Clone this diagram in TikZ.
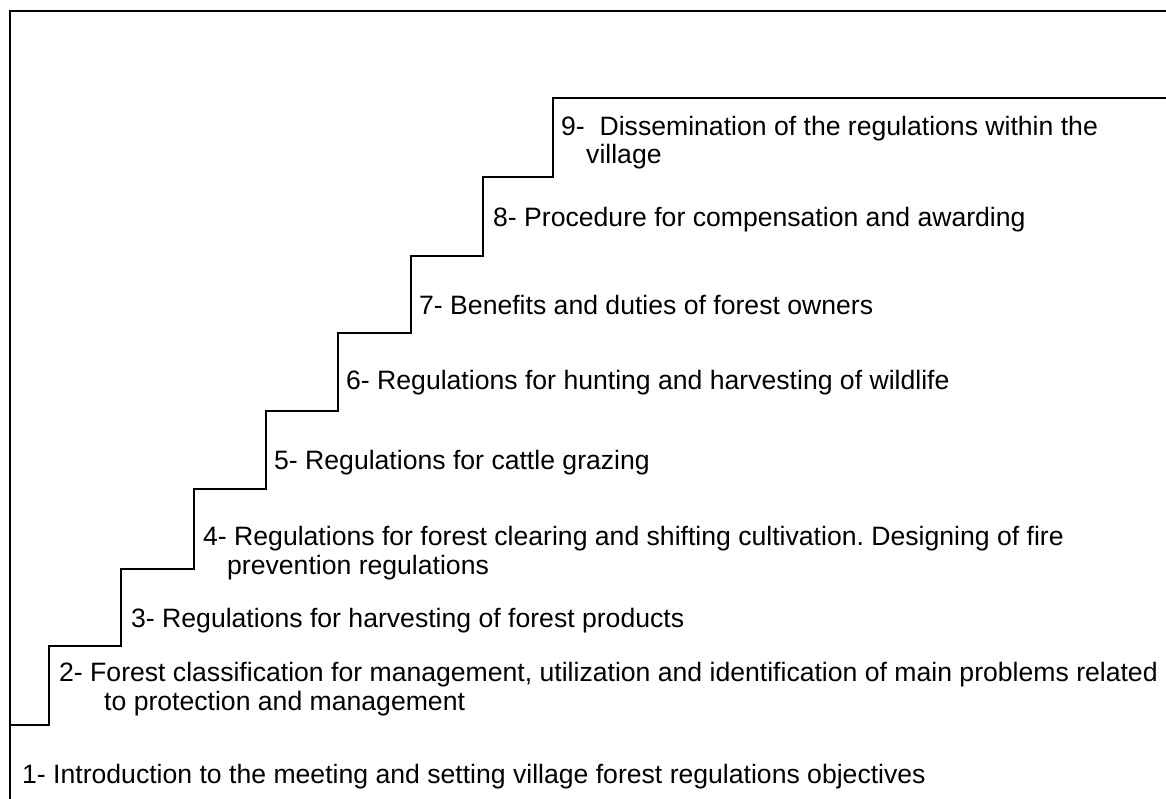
\documentclass[tikz,border=0pt]{standalone}
\usepackage{fontspec}
\setmainfont{Liberation Sans}
\frenchspacing
\begin{document}
\begin{tikzpicture}[x=1pt,y=-1pt,
  rule/.style={line width=2pt,line cap=rect},
  item/.style={anchor=base west,inner sep=0pt,align=left,
    font=\fontsize{26.6}{28.5}\selectfont}]
\useasboundingbox (0,0) rectangle (1166,799);
% frame: top edge and left edge
\draw[rule] (1166,11) -- (10,11) -- (10,799);
% staircase
\draw[rule] (10,725) -- (49,725) -- (49,646) -- (121,646) -- (121,569)
  -- (194,569) -- (194,489) -- (266,489) -- (266,411) -- (338,411)
  -- (338,333) -- (411,333) -- (411,256) -- (483,256) -- (483,177)
  -- (553,177) -- (553,98) -- (1166,98);
% step labels (multi-line labels are placed by their last baseline)
\node[item] (s1) at (22,783) {1- Introduction to the meeting and setting village forest regulations objectives};
\node[item] (s2) at (59,710) {2- Forest classification for management, utilization and identification of main problems related\\\hspace*{45pt}to protection and management};
\node[item] (s3) at (131,627) {3- Regulations for harvesting of forest products};
\node[item] (s4) at (203,574) {4- Regulations for forest clearing and shifting cultivation. Designing of fire\\\hspace*{24pt}prevention regulations};
\node[item] (s5) at (274,469) {5- Regulations for cattle grazing};
\node[item] (s6) at (346,389) {6- Regulations for hunting and harvesting of wildlife};
\node[item] (s7) at (419,315) {7- Benefits and duties of forest owners};
\node[item] (s8) at (493,227) {8- Procedure for compensation and awarding};
\node[item] (s9) at (561,164) {9-\ \ Dissemination of the regulations within the\\\hspace*{25pt}village};
\end{tikzpicture}
\end{document}
